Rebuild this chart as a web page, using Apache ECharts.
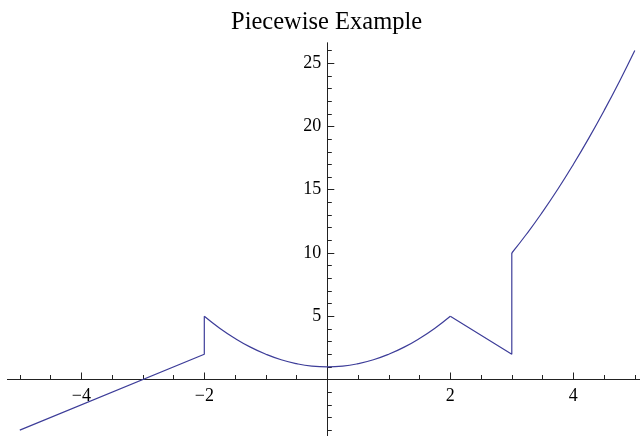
<!DOCTYPE html>
<html>
<head>
<meta charset="utf-8">
<script src="https://cdn.jsdelivr.net/npm/echarts@6/dist/echarts.min.js"></script>
<style>
html,body{margin:0;padding:0;background:#fff;}
#chart{width:640px;height:436px;}
</style>
</head>
<body>
<div id="chart"></div>
<script>
// Piecewise function
const leftLine = [[-5, -4], [-2, 2], [-2, 5]];
const middleCurve = [
  [-2, 5], [-1.75, 4.06], [-1.5, 3.25], [-1.25, 2.56], [-1, 2], [-0.75, 1.56],
  [-0.5, 1.25], [-0.25, 1.06], [0, 1], [0.25, 1.06], [0.5, 1.25], [0.75, 1.56],
  [1, 2], [1.25, 2.56], [1.5, 3.25], [1.75, 4.06], [2, 5]
];
const kinkLine = [[2, 5], [3, 2], [3, 10]];
const rightCurve = [
  [3, 10], [3.25, 11.56], [3.5, 13.25], [3.75, 15.06], [4, 17],
  [4.25, 19.06], [4.5, 21.25], [4.75, 23.56], [5, 26]
];
const xMajorTicks = [-4, -2, 2, 4];
const xMinorTicks = [-5, -4.5, -3.5, -3, -2.5, -1.5, -1, -0.5, 0.5, 1, 1.5, 2.5, 3, 3.5, 4.5, 5];
const yMajorTicks = [5, 10, 15, 20, 25];
const yMinorTicks = [-4, -3, -2, -1, 1, 2, 3, 4, 6, 7, 8, 9, 11, 12, 13, 14, 16, 17, 18, 19, 21, 22, 23, 24, 26];
const titleText = 'Piecewise Example';

const chart = echarts.init(document.getElementById('chart'), null, {renderer: 'canvas'});
const axisColor = '#222';
const lineColor = '#3d3d99';
const fontFamily = '"Liberation Serif", "Times New Roman", serif';
const fmt = v => (v < 0 ? '\u2212' + Math.abs(v) : String(v));
const X_MIN = -5.2, X_MAX = 5.2, Y_MIN = -4.6, Y_MAX = 26.6;

function xAxisDef(ticks, len) {
  return {
    type: 'value', min: X_MIN, max: X_MAX, position: 'bottom', gridIndex: 0,
    axisLine: {show: true, onZero: true, onZeroAxisIndex: 0, lineStyle: {color: axisColor, width: 1}},
    axisTick: {show: true, inside: true, length: len, customValues: ticks, lineStyle: {color: axisColor, width: 1}},
    axisLabel: {show: false},
    splitLine: {show: false}, minorTick: {show: false}
  };
}
function yAxisDef(ticks, len) {
  return {
    type: 'value', min: Y_MIN, max: Y_MAX, position: 'left', gridIndex: 0,
    axisLine: {show: true, onZero: true, onZeroAxisIndex: 0, lineStyle: {color: axisColor, width: 1}},
    axisTick: {show: true, inside: true, length: len, customValues: ticks, lineStyle: {color: axisColor, width: 1}},
    axisLabel: {show: false},
    splitLine: {show: false}, minorTick: {show: false}
  };
}
const labelStyle = {color: '#000', fontFamily: fontFamily, fontSize: 18};

function lineSeries(data, smooth) {
  return {
    type: 'line', data: data, smooth: smooth, showSymbol: false, symbol: 'none',
    xAxisIndex: 0, yAxisIndex: 0, animation: false,
    lineStyle: {color: lineColor, width: 1.2}, itemStyle: {color: lineColor}
  };
}

chart.setOption({
  animation: false,
  backgroundColor: '#fff',
  title: {
    text: titleText, left: 226, top: 5,
    textStyle: {fontFamily: fontFamily, fontSize: 24.5, fontWeight: 'normal', color: '#000'}
  },
  grid: [
    // plot area
    {left: 7.5, right: -7.1, top: 43, bottom: -1.7, containLabel: false, outerBoundsMode: 'none'},
    // x tick labels: bottom edge sits on y = 0
    {left: 7.5, right: -7.1, top: 43, bottom: 56.5, containLabel: false, outerBoundsMode: 'none'},
    // y tick labels: left edge sits on x = 0
    {left: 327.3, right: -7.1, top: 43, bottom: -1.7, containLabel: false, outerBoundsMode: 'none'}
  ],
  xAxis: [
    xAxisDef(xMajorTicks, 7),
    xAxisDef(xMinorTicks, 4.5),
    {type: 'value', gridIndex: 1, min: X_MIN, max: X_MAX, position: 'bottom',
      axisLine: {show: false, onZero: false}, axisTick: {show: false}, splitLine: {show: false},
      axisLabel: Object.assign({show: true, customValues: xMajorTicks, formatter: fmt, margin: 8}, labelStyle)},
    {type: 'value', gridIndex: 2, min: X_MIN, max: X_MAX, show: false}
  ],
  yAxis: [
    yAxisDef(yMajorTicks, 7),
    yAxisDef(yMinorTicks, 4.5),
    {type: 'value', gridIndex: 1, min: Y_MIN, max: Y_MAX, show: false},
    {type: 'value', gridIndex: 2, min: Y_MIN, max: Y_MAX, position: 'left',
      axisLine: {show: false, onZero: false}, axisTick: {show: false}, splitLine: {show: false},
      axisLabel: Object.assign({show: true, customValues: yMajorTicks, formatter: fmt, margin: 6}, labelStyle)}
  ],
  series: [
    lineSeries(leftLine, false),
    lineSeries(middleCurve, true),
    lineSeries(kinkLine, false),
    lineSeries(rightCurve, true)
  ]
});
</script>
</body>
</html>
